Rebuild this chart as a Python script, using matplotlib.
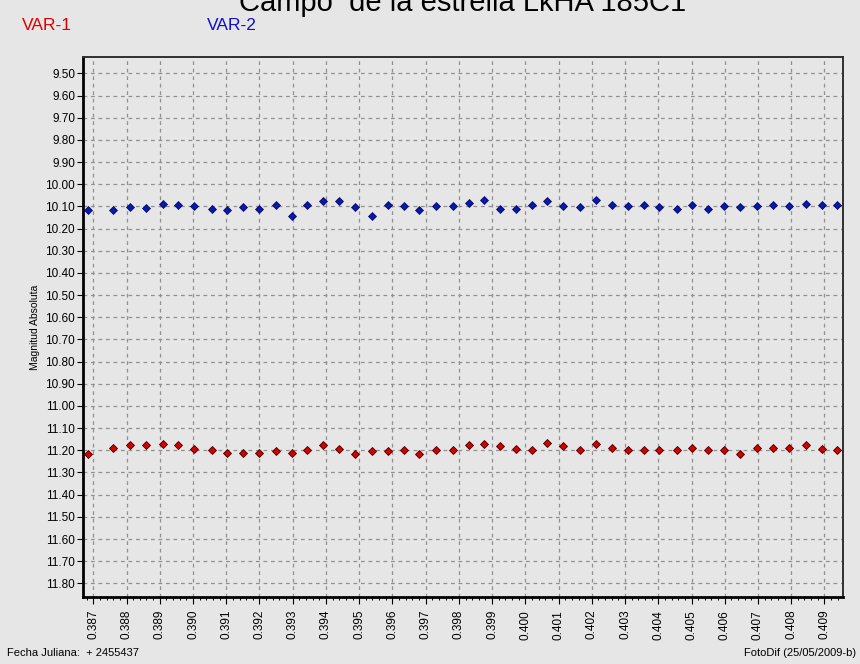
import numpy as np
import matplotlib.pyplot as plt
from matplotlib.ticker import MultipleLocator, FormatStrFormatter

plt.rcParams['font.family'] = ['Liberation Sans', 'DejaVu Sans']

# fecha juliana (fraccion, + 2455437)
jd = [0.38685, 0.38758, 0.38810, 0.38858, 0.38909, 0.38956, 0.39004, 0.39056,
      0.39103, 0.39151, 0.39199, 0.39250, 0.39297, 0.39344, 0.39392, 0.39440,
      0.39488, 0.39540, 0.39588, 0.39635, 0.39681, 0.39730, 0.39782, 0.39829,
      0.39876, 0.39924, 0.39971, 0.40019, 0.40066, 0.40114, 0.40165, 0.40213,
      0.40261, 0.40309, 0.40356, 0.40403, 0.40456, 0.40503, 0.40549, 0.40598,
      0.40646, 0.40696, 0.40745, 0.40793, 0.40844, 0.40892, 0.40939]

var2 = [10.117, 10.117, 10.102, 10.106, 10.090, 10.094, 10.100, 10.111,
        10.117, 10.104, 10.112, 10.094, 10.144, 10.094, 10.077, 10.077,
        10.104, 10.144, 10.094, 10.100, 10.117, 10.100, 10.100, 10.084,
        10.071, 10.112, 10.112, 10.093, 10.077, 10.100, 10.104, 10.071,
        10.093, 10.099, 10.093, 10.104, 10.112, 10.093, 10.111, 10.100,
        10.104, 10.100, 10.093, 10.100, 10.088, 10.093, 10.093]

var1 = [11.215, 11.190, 11.177, 11.177, 11.172, 11.177, 11.194, 11.200,
        11.211, 11.211, 11.211, 11.205, 11.211, 11.200, 11.177, 11.194,
        11.215, 11.205, 11.205, 11.200, 11.215, 11.200, 11.200, 11.177,
        11.172, 11.182, 11.194, 11.200, 11.166, 11.182, 11.200, 11.172,
        11.188, 11.200, 11.200, 11.200, 11.200, 11.188, 11.200, 11.200,
        11.215, 11.188, 11.188, 11.188, 11.177, 11.194, 11.200]

bg = '#e6e6e6'
fig = plt.figure(figsize=(8.6, 6.64), dpi=100, facecolor=bg)
ax = fig.add_axes([0.0969, 0.1004, 0.883, 0.8142], facecolor=bg)

ax.plot(jd, var2, 'D', ms=4.2, color='#0a1aa8', mec='#000060', mew=0.5, zorder=3)
ax.plot(jd, var1, 'D', ms=4.2, color='#d40000', mec='#400000', mew=0.6, zorder=3)

ax.set_xlim(0.3867, 0.40955)
ax.set_ylim(11.863, 9.425)

ax.xaxis.set_major_locator(MultipleLocator(0.001))
ax.xaxis.set_minor_locator(MultipleLocator(0.0002))
ax.xaxis.set_major_formatter(FormatStrFormatter('%.3f'))
ax.yaxis.set_major_locator(MultipleLocator(0.1))
ax.yaxis.set_major_formatter(FormatStrFormatter('%.2f'))

ax.grid(True, which='major', color='#909090', linestyle=(0, (3, 3)), linewidth=0.9)
ax.tick_params(axis='x', which='major', labelrotation=90, labelsize=8.5, length=5, width=0.8, pad=4)
ax.tick_params(axis='x', which='minor', length=2.5, width=0.7)
ax.tick_params(axis='y', labelsize=8.5, length=4, width=0.8, pad=2)

for s in ['left', 'bottom']:
    ax.spines[s].set_linewidth(2)
    ax.spines[s].set_color('black')
for s in ['top', 'right']:
    ax.spines[s].set_linewidth(1.4)
    ax.spines[s].set_color('#303030')

ax.set_ylabel('Magnitud Absoluta', fontsize=7.5, labelpad=4)

fig.text(0.538, 0.983, 'Campo  de la estrella LkHA 185C1', fontsize=21,
         ha='center', va='baseline')
fig.text(0.026, 0.955, 'VAR-1', color='#e00000', fontsize=12.5, va='baseline')
fig.text(0.241, 0.955, 'VAR-2', color='#1010c8', fontsize=12.5, va='baseline')
fig.text(0.008, 0.012, 'Fecha Juliana:  + 2455437', fontsize=8, va='baseline')
fig.text(0.995, 0.012, 'FotoDif (25/05/2009-b)', fontsize=8, va='baseline', ha='right')

fig.savefig('out.png', dpi=100, facecolor=bg)
